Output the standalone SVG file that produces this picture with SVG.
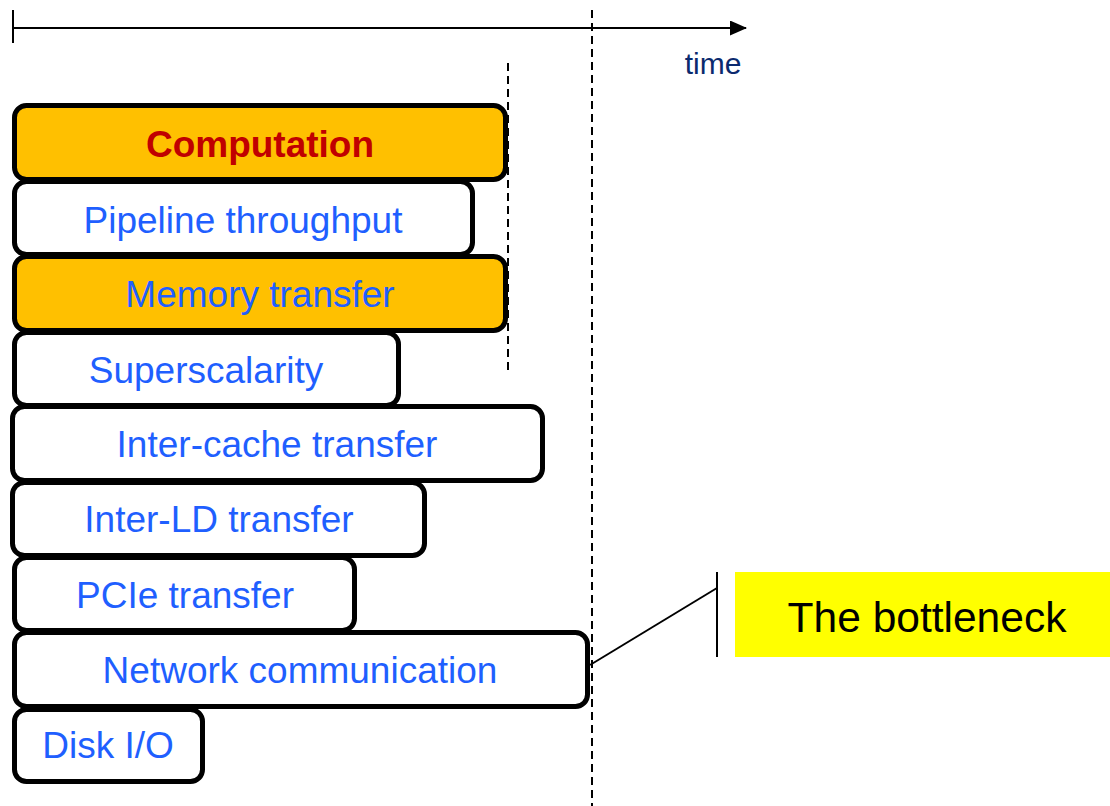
<svg xmlns="http://www.w3.org/2000/svg" width="1110" height="806" viewBox="0 0 1110 806">
  <style>
    .bar { stroke: #000; stroke-width: 5; }
    .plain { fill: #fff; }
    .hot { fill: #FFC000; }
    .lbl { font-family: "Liberation Sans", Arial, sans-serif; font-size: 37px; fill: #1F5FFF; text-anchor: middle; }
    .title { font-weight: bold; fill: #C00000; }
    .guide { stroke: #000; stroke-width: 2; stroke-dasharray: 8 5; fill: none; }
    .axis { stroke: #000; stroke-width: 2; fill: none; }
  </style>
  <defs>
    <marker id="arrow" viewBox="0 0 17 15" refX="16" refY="7.5" markerWidth="17" markerHeight="15" markerUnits="userSpaceOnUse" orient="auto">
      <path d="M0,0 L17,7.5 L0,15 Z" fill="#000"/>
    </marker>
  </defs>
  <rect width="1110" height="806" fill="#fff"/>

  <!-- time axis -->
  <g id="time-axis">
    <line class="axis" x1="13" y1="28" x2="746" y2="28" marker-end="url(#arrow)"/>
    <line class="axis" x1="13" y1="10" x2="13" y2="43"/>
    <text x="713" y="74" font-family="Liberation Sans, Arial, sans-serif" font-size="30" fill="#0B2A6E" text-anchor="middle">time</text>
  </g>

  <!-- dashed guides -->
  <g id="guides">
    <line class="guide" x1="508" y1="63" x2="508" y2="375"/>
    <line class="guide" x1="592" y1="10" x2="592" y2="806"/>
  </g>

  <!-- stacked bars -->
  <g id="computation">
    <rect class="bar hot" x="14.5" y="105.5" width="491" height="74" rx="12"/>
    <text class="lbl title" x="260" y="157">Computation</text>
  </g>
  <g id="pipeline-throughput">
    <rect class="bar plain" x="14.5" y="181.5" width="458" height="73" rx="12"/>
    <text class="lbl" x="243" y="233">Pipeline throughput</text>
  </g>
  <g id="memory-transfer">
    <rect class="bar hot" x="14.5" y="256.5" width="491" height="74" rx="12"/>
    <text class="lbl" x="260" y="307">Memory transfer</text>
  </g>
  <g id="superscalarity">
    <rect class="bar plain" x="14.5" y="332.5" width="384" height="73" rx="12"/>
    <text class="lbl" x="206" y="383">Superscalarity</text>
  </g>
  <g id="inter-cache-transfer">
    <rect class="bar plain" x="12.5" y="406.5" width="530" height="74" rx="12"/>
    <text class="lbl" x="277" y="457">Inter-cache transfer</text>
  </g>
  <g id="inter-ld-transfer">
    <rect class="bar plain" x="12.5" y="482.5" width="412" height="73" rx="12"/>
    <text class="lbl" x="219" y="532">Inter-LD transfer</text>
  </g>
  <g id="pcie-transfer">
    <rect class="bar plain" x="14.5" y="557.5" width="340" height="73" rx="12"/>
    <text class="lbl" x="185" y="608">PCIe transfer</text>
  </g>
  <g id="network-communication">
    <rect class="bar plain" x="14.5" y="632.5" width="573" height="74" rx="12"/>
    <text class="lbl" x="300" y="683">Network communication</text>
  </g>
  <g id="disk-io">
    <rect class="bar plain" x="14.5" y="709.5" width="188" height="72" rx="12"/>
    <text class="lbl" x="108" y="758">Disk I/O</text>
  </g>

  <!-- callout -->
  <g id="connectors">
    <line x1="590" y1="665" x2="717" y2="588" stroke="#000" stroke-width="2"/>
    <line x1="717" y1="572" x2="717" y2="657" stroke="#000" stroke-width="2"/>
  </g>
  <g id="bottleneck">
    <rect x="735" y="572" width="375" height="85" fill="#FFFF00"/>
    <text x="927" y="632" font-family="Liberation Sans, Arial, sans-serif" font-size="42.5" fill="#000" text-anchor="middle">The bottleneck</text>
  </g>
</svg>
